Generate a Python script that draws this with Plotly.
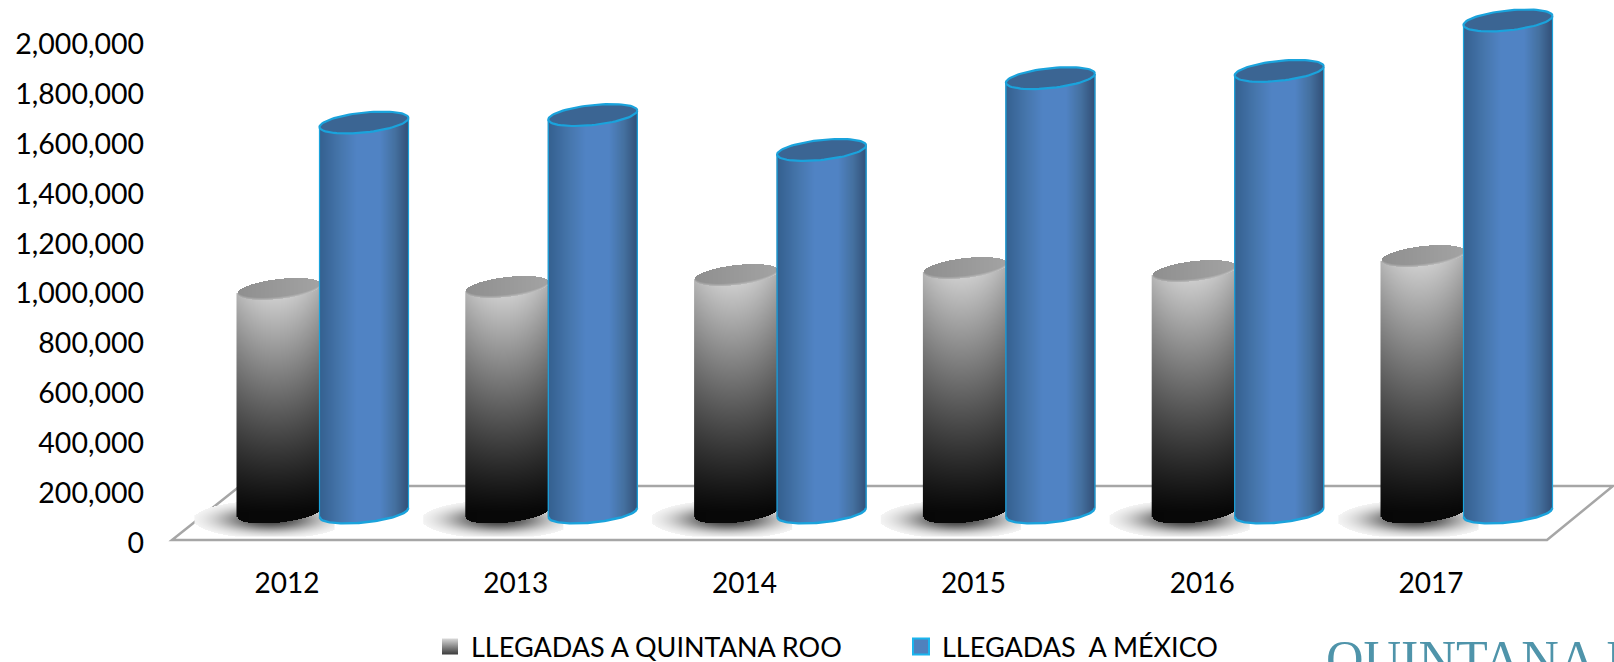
import numpy as np
import plotly.graph_objects as go

YEARS = ["2012", "2013", "2014", "2015", "2016", "2017"]
LLEGADAS_QROO = [896000, 904000, 952000, 980000, 968000, 1028000]
LLEGADAS_MEXICO = [1563000, 1593000, 1453000, 1741000, 1770000, 1972000]
Y_TICKS = [0, 200000, 400000, 600000, 800000, 1000000, 1200000, 1400000, 1600000, 1800000, 2000000]
NAME_QROO = "LLEGADAS A QUINTANA ROO"
NAME_MEXICO = "LLEGADAS\u00a0 A MÉXICO"

W, H = 1614, 662
LEFT, AXIS_PX = 145, 543
X0_PX, SPAN = 287, 228.8          # pixel of first category, pixels per category
PER_PX = 200000 / 49.9            # value units per vertical pixel
FLOOR = 3                          # floor front edge above the zero label
DEPTH, TILT, MINOR = 30.5, 4.5, 10.0
FONT = "Lato"

def fx(px):
    return (px - X0_PX) / SPAN

def grid(i, offset, a, value):
    u = np.linspace(-1, 1, int(2 * a) + 1)
    top = DEPTH + value / PER_PX
    h = np.arange(DEPTH - 13, top + 13, 1.0)
    U, Hh = np.meshgrid(u, h)
    s = TILT * U
    f = MINOR * np.sqrt(np.clip(1 - U ** 2, 0, 1))
    inside = (Hh >= DEPTH + s - f) & (Hh <= top + s + f)
    is_top = Hh > top + s - f
    v = np.clip((Hh - DEPTH) / (top - DEPTH), 0, 1)
    x = i + (offset + u * a) / SPAN
    return x, h * PER_PX, U, Hh, v, inside, is_top, top

fig = go.Figure()

# floor shadows
for i in range(len(YEARS)):
    cx = i * SPAN + X0_PX - 12
    px = np.arange(-80, 60, 1.0)
    h = np.arange(FLOOR + 4, 48, 1.0)
    P, Q = np.meshgrid(px, h)
    d = np.exp(-(((P + 5) / 48) ** 2 + ((Q - 24) / 12) ** 2) ** 1.1)
    z = 255 - 190 * d
    z = np.where(d < 0.06, np.nan, z)
    fig.add_trace(go.Heatmap(x=fx(cx + px), y=h * PER_PX, z=z, zmin=0, zmax=255, showscale=False,
                             colorscale=[[0, "#000"], [1, "#fff"]], hoverinfo="skip"))

# grey cylinders
for i, val in enumerate(LLEGADAS_QROO):
    x, y, U, Hh, v, inside, is_top, top = grid(i, -8, 42, val)
    shade = 0.8 + 0.2 * (1 - ((U + 0.1) / 1.1) ** 2)
    body = (8 + 205 * v ** 1.12) * shade
    rim = np.clip(1 - (Hh - (top + TILT * U - MINOR * np.sqrt(np.clip(1 - U ** 2, 0, 1)))) / 2.5, 0, 1)
    cap = 153 + 10 * U + 32 * rim
    z = np.where(is_top, cap, body)
    z = np.where(inside, z, np.nan)
    fig.add_trace(go.Heatmap(x=x, y=y, z=z, zmin=0, zmax=255, showscale=False,
                             colorscale=[[0, "#000"], [1, "#fff"]], hoverinfo="skip"))

# blue cylinders
for i, val in enumerate(LLEGADAS_MEXICO):
    x, y, U, Hh, v, inside, is_top, top = grid(i, 77, 44.5, val)
    z = np.where(inside & ~is_top, U, np.nan)
    fig.add_trace(go.Heatmap(x=x, y=y, z=z, zmin=-1, zmax=1, showscale=False, hoverinfo="skip",
                             colorscale=[[0, "#34608f"], [0.25, "#4777ae"], [0.42, "#5083c4"],
                                         [0.68, "#5083c4"], [0.85, "#44709f"], [1, "#324f77"]]))
    t = np.linspace(0, 2 * np.pi, 80)
    ex = 77 + 44.5 * np.cos(t)
    ey = top + TILT * np.cos(t) + MINOR * np.sin(t)
    fig.add_trace(go.Scatter(x=i + ex / SPAN, y=ey * PER_PX, mode="lines", fill="toself", fillcolor="#3b6593",
                             line=dict(color="#1aa3dc", width=2.2), showlegend=False, hoverinfo="skip"))
    # sides and bottom outline
    uu = np.linspace(-1, 1, 60)
    bx = 77 + 44.5 * uu
    by = DEPTH + TILT * uu - MINOR * np.sqrt(1 - uu ** 2)
    fig.add_trace(go.Scatter(x=i + bx / SPAN, y=by * PER_PX, mode="lines",
                             line=dict(color="#1aa3dc", width=2.4), showlegend=False, hoverinfo="skip"))
    for side in (-1, 1):
        fig.add_trace(go.Scatter(x=[i + (77 + side * 44.5) / SPAN] * 2,
                                 y=[(DEPTH + side * TILT) * PER_PX, (top + side * TILT) * PER_PX], mode="lines",
                                 line=dict(color="#1aa3dc", width=1.2), showlegend=False, hoverinfo="skip"))

# legend entries
fig.add_trace(go.Scatter(x=[None], y=[None], mode="markers", name=NAME_QROO,
                         marker=dict(symbol="square", size=18, color="#d8d8d8", line=dict(width=0),
                                     gradient=dict(type="vertical", color="#3a3a3a"))))
fig.add_trace(go.Scatter(x=[None], y=[None], mode="markers", name=NAME_MEXICO,
                         marker=dict(symbol="square", size=16, color="#4f81bd", line=dict(color="#1ab5ee", width=2))))

floor = (f"M {fx(172)} {FLOOR * PER_PX} L {fx(1547)} {FLOOR * PER_PX} L {fx(1613)} {(FLOOR + 54) * PER_PX} "
         f"L {fx(240)} {(FLOOR + 54) * PER_PX} Z")
fig.update_layout(
    width=W, height=H, margin=dict(l=LEFT, r=0, t=0, b=H - AXIS_PX, autoexpand=False),
    paper_bgcolor="#fff", plot_bgcolor="#fff", font=dict(family=FONT, color="#000"),
    xaxis=dict(range=[fx(LEFT), fx(W)], tickmode="array", tickvals=list(range(6)), ticktext=YEARS,
               showgrid=False, zeroline=False, showline=False, ticks="", ticklabelstandoff=21,
               tickfont=dict(size=28), fixedrange=True),
    yaxis=dict(range=[0, AXIS_PX * PER_PX], tickmode="array", tickvals=Y_TICKS, tickformat=",",
               showgrid=False, zeroline=False, showline=False, ticks="", tickfont=dict(size=28.5), fixedrange=True),
    legend=dict(orientation="h", x=(429 - LEFT) / (W - LEFT), xanchor="left", y=(AXIS_PX - 647) / AXIS_PX,
                yanchor="middle", font=dict(size=27), bgcolor="rgba(0,0,0,0)",
                itemwidth=32, entrywidth=424, entrywidthmode="pixels"),
    shapes=[dict(type="path", path=floor, xref="x", yref="y", layer="below",
                 line=dict(color="#a6a6a6", width=2.5))],
    annotations=[dict(text="QUINTANA ROO", xref="paper", yref="paper", x=(1324 - LEFT) / (W - LEFT), xanchor="left",
                      y=(AXIS_PX - 629) / AXIS_PX, yanchor="top", showarrow=False,
                      font=dict(family="Liberation Serif", size=52, color="#4f94aa"))],
)
fig.write_html("out.html", config=dict(displayModeBar=False),
               post_script="document.body.style.margin='0';document.body.style.overflow='hidden';")
